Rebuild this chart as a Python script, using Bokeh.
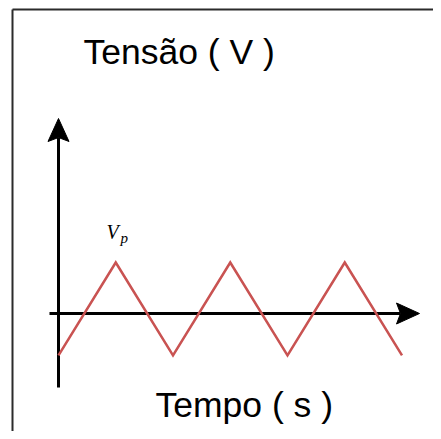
from bokeh.plotting import figure
from bokeh.models import Range1d, Label
from bokeh.embed import file_html
from bokeh.resources import INLINE

# ---- data -------------------------------------------------------------
time_halfperiods = [0, 1, 2, 3, 4, 5, 6]
voltage = [-0.82, 1.0, -0.82, 1.0, -0.82, 1.0, -0.82]
y_title = "Tensão ( V )"
x_title = "Tempo ( s )"
peak_main = "V"
peak_sub = "p"

# ---- layout -----------------------------------------------------------
W, H = 433, 431
OFF = 0                     # offset between figure and picture pixels
X0_PX, Y0_PX = 58, 313      # pixel of the origin
SX, SY = 57.25, 51.0        # pixels per unit
BASE_FIX = 0.44             # correction of the label baseline, in em

def t_of(px):
    return (px - X0_PX) / SX

def v_of(py):
    return (Y0_PX - py) / SY

p = figure(width=W, height=H, output_backend="svg", toolbar_location=None,
           x_range=Range1d(t_of(OFF), t_of(OFF + W)),
           y_range=Range1d(v_of(OFF + H), v_of(OFF)),
           x_axis_type=None, y_axis_type=None, min_border=0)
p.grid.visible = False
p.outline_line_color = None
p.background_fill_color = "white"
p.border_fill_color = "white"

# frame lines (top and left)
p.segment(x0=[t_of(12), t_of(12)], y0=[v_of(9), v_of(9)],
          x1=[t_of(441), t_of(12)], y1=[v_of(9), v_of(439)],
          line_color="#2b2b2b", line_width=2)

# axes shafts
HEAD_LEN, HEAD_HALF, HEAD_NOTCH = 23, 10.5, 4
H_TIP, V_TIP = 419, 118
p.segment(x0=[t_of(49), 0], y0=[0, v_of(387)],
          x1=[t_of(H_TIP - HEAD_LEN + HEAD_NOTCH), 0],
          y1=[0, v_of(V_TIP + HEAD_LEN - HEAD_NOTCH)],
          line_color="black", line_width=3)

# arrow heads
hx = [t_of(H_TIP), t_of(H_TIP - HEAD_LEN), t_of(H_TIP - HEAD_LEN + HEAD_NOTCH), t_of(H_TIP - HEAD_LEN)]
hy = [0, v_of(Y0_PX - HEAD_HALF), 0, v_of(Y0_PX + HEAD_HALF)]
vx = [0, t_of(X0_PX - HEAD_HALF), 0, t_of(X0_PX + HEAD_HALF)]
vy = [v_of(V_TIP), v_of(V_TIP + HEAD_LEN), v_of(V_TIP + HEAD_LEN - HEAD_NOTCH), v_of(V_TIP + HEAD_LEN)]
p.patches(xs=[hx, vx], ys=[hy, vy], fill_color="black", line_color="black", line_width=1)

# triangle wave
p.line(time_halfperiods, voltage, line_color="#c95352", line_width=2.5, line_join="miter")

# texts
def add_text(text, px, py, size, font="Liberation Sans", style="normal"):
    p.add_layout(Label(x=px - OFF, y=OFF + H - (py - BASE_FIX * size),
                       x_units="screen", y_units="screen", text=text,
                       text_font=font, text_font_style=style,
                       text_font_size=f"{size}px", text_color="black",
                       text_baseline="alphabetic"))

add_text(y_title, 83, 67, 35.5)
add_text(x_title, 155, 420, 35.5)
add_text(peak_main, 106, 240, 20, "Liberation Serif", "italic")
add_text(peak_sub, 120, 244, 15, "Liberation Serif", "italic")

open("out.html", "w").write(file_html(p, INLINE))
